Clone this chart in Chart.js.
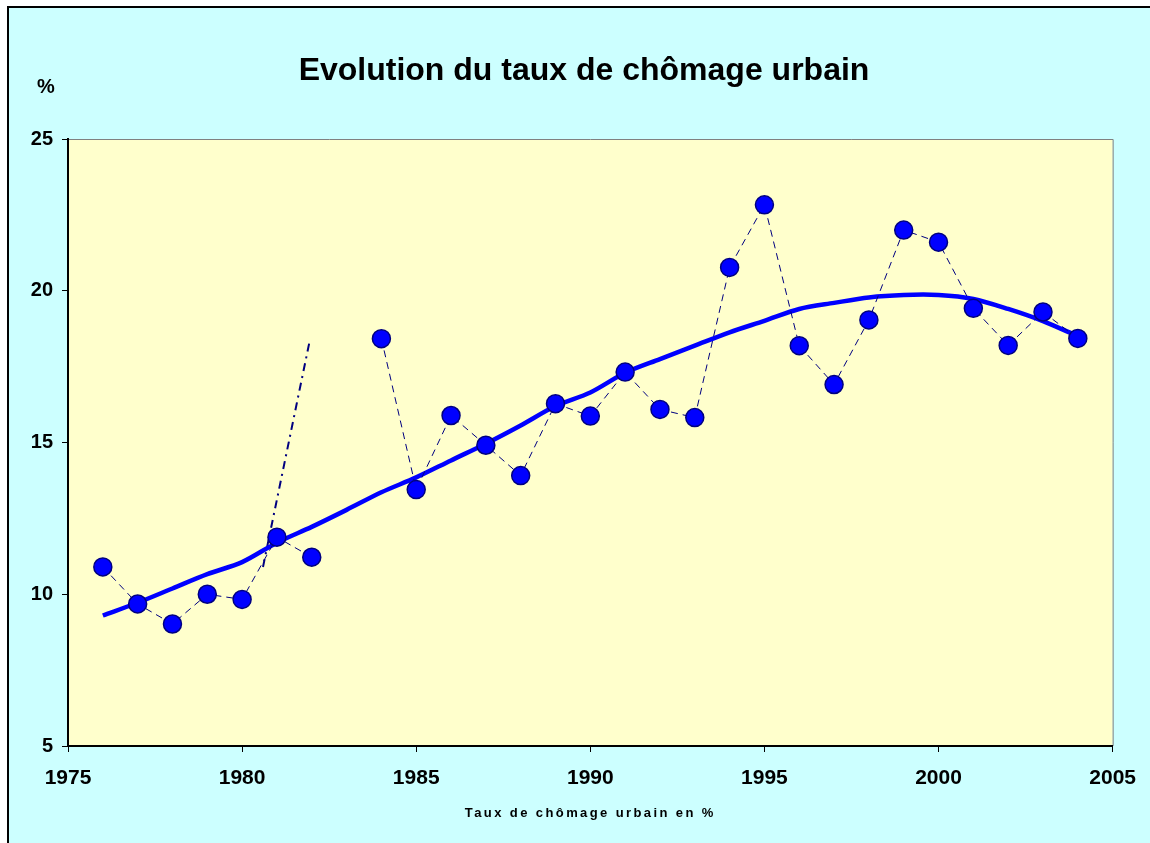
<!DOCTYPE html>
<html>
<head>
<meta charset="utf-8">
<script src="https://cdn.jsdelivr.net/npm/chart.js@4"></script>
<style>
  html, body { margin: 0; padding: 0; background: #ffffff; }
  #wrap { position: absolute; left: 0; top: 0; width: 1150px; height: 843px; }
</style>
</head>
<body>
<div id="wrap"><canvas id="chart"></canvas></div>
<script>
// données
const annees = [1976, 1977, 1978, 1979, 1980, 1981, 1982, 1983, 1984, 1985,
    1986, 1987, 1988, 1989, 1990, 1991, 1992, 1993, 1994, 1995,
    1996, 1997, 1998, 1999, 2000, 2001, 2002, 2003, 2004];
const tauxChomage = [10.9, 9.68, 9.02, 10.0, 9.83, 11.88, 11.22, null, 18.42, 13.45,
    15.89, 14.91, 13.91, 16.28, 15.87, 17.32, 16.09, 15.82, 20.77, 22.83,
    18.19, 16.91, 19.04, 22.0, 21.6, 19.42, 18.2, 19.3, 18.43];
const tendance = [9.3, 9.72, 10.19, 10.66, 11.06, 11.7, 12.22, 12.78, 13.36, 13.85,
    14.41, 14.96, 15.56, 16.2, 16.65, 17.3, 17.75, 18.19, 18.63, 19.01,
    19.4, 19.6, 19.78, 19.86, 19.86, 19.73, 19.4, 19.0, 18.5];
const projX = [1980.6, 1981.95];
const projY = [10.9, 18.4];

const xTicks = [1975, 1980, 1985, 1990, 1995, 2000, 2005];
const yTicks = [5, 10, 15, 20, 25];

const titre = 'Evolution du taux de chômage urbain';
const titreX = 'Taux de chômage urbain en %';
const uniteY = '%';

const FONT = '"Liberation Sans", Arial, sans-serif';

const fondPlugin = {
    id: 'fond',
    beforeDraw(chart) {
        const { ctx, chartArea: a, width, height } = chart;
        ctx.save();
        ctx.fillStyle = '#ffffff';
        ctx.fillRect(0, 0, width, height);
        ctx.fillStyle = '#CCFFFF';
        ctx.fillRect(9, 8, width - 9, height - 8);
        ctx.fillStyle = '#000000';
        ctx.fillRect(7, 6, 2, height - 6);
        ctx.fillRect(7, 6, width - 7, 2);
        ctx.fillStyle = '#FFFFCC';
        ctx.fillRect(a.left, a.top, a.right - a.left, a.bottom - a.top);
        ctx.strokeStyle = '#808080';
        ctx.lineWidth = 1;
        ctx.beginPath();
        ctx.moveTo(a.left, a.top + 0.5);
        ctx.lineTo(a.right + 0.5, a.top + 0.5);
        ctx.lineTo(a.right + 0.5, a.bottom);
        ctx.stroke();
        ctx.restore();
    },
    afterDraw(chart) {
        const { ctx, chartArea: a } = chart;
        ctx.save();
        ctx.fillStyle = '#000000';
        ctx.textAlign = 'center';
        ctx.textBaseline = 'middle';
        ctx.font = 'bold 32px ' + FONT;
        ctx.fillText(titre, 584, 71);
        ctx.font = 'bold 20px ' + FONT;
        ctx.fillText(uniteY, 46, 87);
        ctx.font = 'bold 13px ' + FONT;
        ctx.letterSpacing = '2.4px';
        ctx.fillText(titreX, (a.left + a.right) / 2, 813);
        ctx.restore();
    }
};

const ctx = document.getElementById('chart').getContext('2d');
new Chart(ctx, {
    type: 'line',
    data: {
        datasets: [{
            label: 'Taux de chômage',
            data: annees.map((a, i) => ({ x: a, y: tauxChomage[i] })),
            borderColor: '#000080',
            borderWidth: 1,
            borderDash: [7, 5],
            spanGaps: false,
            pointRadius: 9,
            pointBackgroundColor: '#0000FF',
            pointBorderColor: '#000080',
            pointBorderWidth: 1.5,
            order: 0
        }, {
            label: 'Tendance',
            data: annees.map((a, i) => ({ x: a, y: tendance[i] })),
            borderColor: '#0000FF',
            borderWidth: 4.5,
            pointRadius: 0,
            tension: 0.3,
            order: 1
        }, {
            label: 'Projection',
            data: projX.map((a, i) => ({ x: a, y: projY[i] })),
            borderColor: '#000080',
            borderWidth: 2,
            borderDash: [8, 5, 2, 5],
            pointRadius: 0,
            order: 2
        }]
    },
    options: {
        responsive: true,
        maintainAspectRatio: false,
        animation: false,
        layout: { padding: { top: 139, right: 37, bottom: 0, left: 0 } },
        scales: {
            x: {
                type: 'linear',
                min: 1975,
                max: 2005,
                afterFit: s => { s.height = 97; },
                afterBuildTicks: s => { s.ticks = xTicks.map(v => ({ value: v })); },
                border: { color: '#000000', width: 2 },
                grid: { drawOnChartArea: false, tickLength: 6, color: '#000000' },
                ticks: {
                    color: '#000000',
                    padding: 14,
                    maxRotation: 0,
                    font: { family: FONT, size: 21, weight: 'bold' },
                    callback: v => String(v)
                }
            },
            y: {
                min: 5,
                max: 25,
                afterFit: s => { s.width = 68; },
                afterBuildTicks: s => { s.ticks = yTicks.map(v => ({ value: v })); },
                border: { color: '#000000', width: 2 },
                grid: { drawOnChartArea: false, tickLength: 6, color: '#000000' },
                ticks: {
                    color: '#000000',
                    padding: 9,
                    font: { family: FONT, size: 20, weight: 'bold' },
                    callback: v => String(v)
                }
            }
        },
        plugins: {
            legend: { display: false },
            title: { display: false },
            tooltip: { enabled: false }
        }
    },
    plugins: [fondPlugin]
});
</script>
</body>
</html>
